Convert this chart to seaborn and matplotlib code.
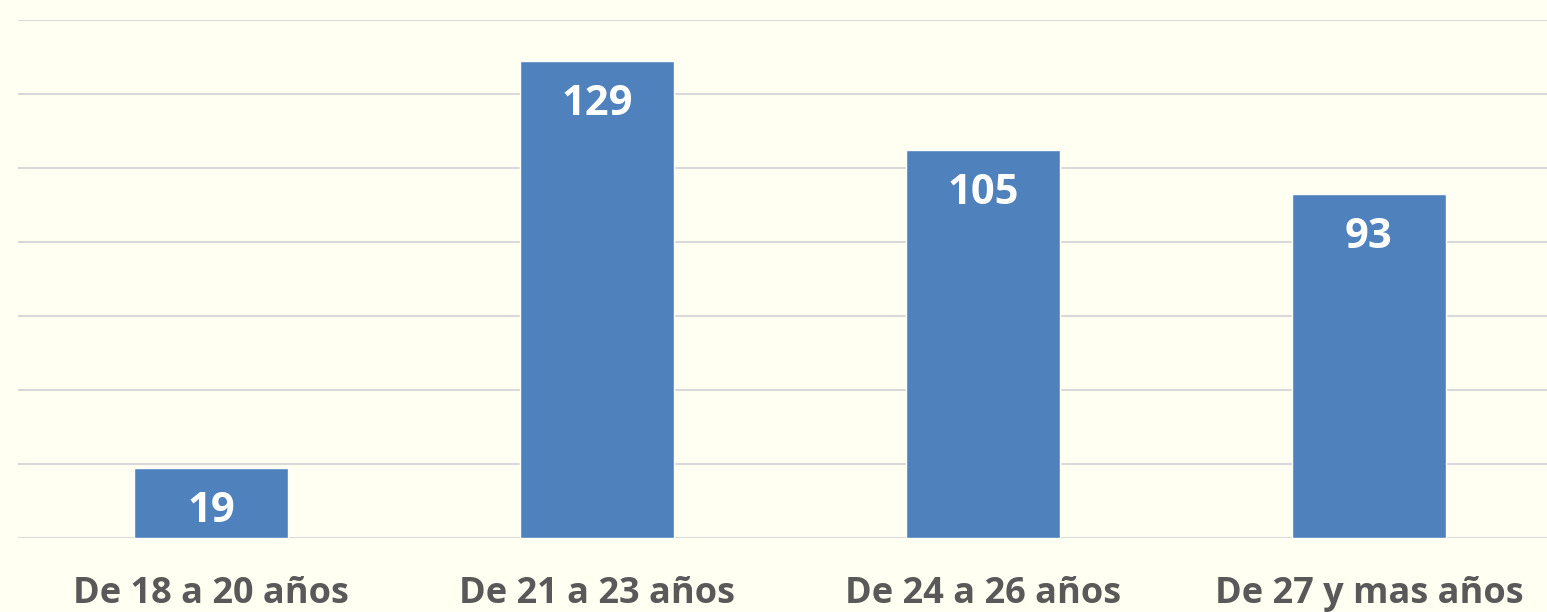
import matplotlib
matplotlib.use('Agg')
import matplotlib.pyplot as plt
import pandas as pd
import seaborn as sns

categorias = ['De 18 a 20 años', 'De 21 a 23 años', 'De 24 a 26 años', 'De 27 y mas años']
valores = [19, 129, 105, 93]

fondo = '#FFFFF2'
azul = '#4F81BD'

sns.set_style('white')
plt.rcParams['font.family'] = ['Open Sans', 'DejaVu Sans']

df = pd.DataFrame({'grupo': categorias, 'cantidad': valores})

fig = plt.figure(figsize=(15.47, 6.12), dpi=100, facecolor=fondo)
ax = fig.add_axes([18 / 1547, 74 / 612, 1544 / 1547, 518 / 612])
ax.set_facecolor(fondo)

sns.barplot(data=df, x='grupo', y='cantidad', color=azul, width=0.4,
            saturation=1, ax=ax, zorder=2)

ax.set_xlim(-0.5, 3.5)
ax.set_ylim(0, 140)
ax.set_yticks(range(0, 141, 20))
ax.yaxis.grid(True, color='#D9D9D9', linewidth=1.5, zorder=0)
ax.set_axisbelow(True)
ax.tick_params(axis='y', left=False, labelleft=False)
ax.tick_params(axis='x', bottom=False, pad=24, labelsize=26, labelcolor='#595959')
for lbl in ax.get_xticklabels():
    lbl.set_fontweight('bold')
ax.set_xlabel('')
ax.set_ylabel('')
for s in ax.spines.values():
    s.set_visible(False)

# etiqueta dentro de la barra, un poco debajo del borde superior
for p, v in zip(ax.patches, valores):
    ax.annotate(str(v), (p.get_x() + p.get_width() / 2, p.get_height()),
                xytext=(0, -44), textcoords='offset pixels',
                ha='center', va='center', color='white',
                fontsize=30, fontweight='bold')

fig.savefig('out.png', dpi=100, facecolor=fondo)
